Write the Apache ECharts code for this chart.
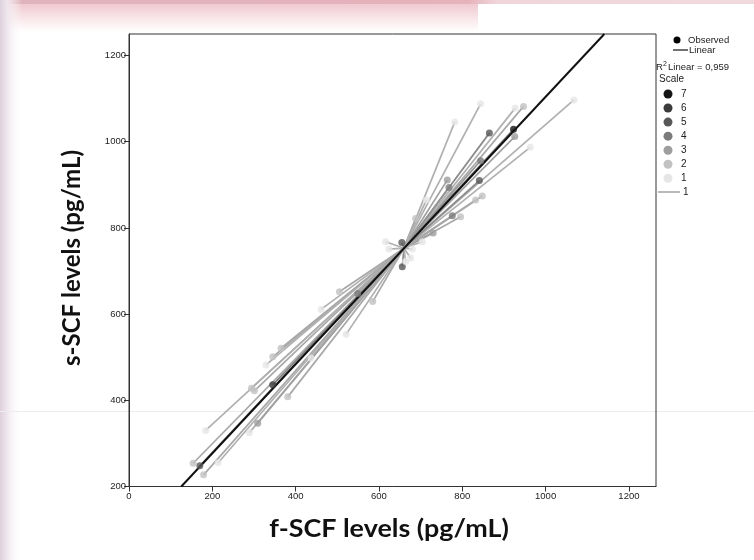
<!DOCTYPE html>
<html>
<head>
<meta charset="utf-8">
<script src="https://cdn.jsdelivr.net/npm/echarts@6/dist/echarts.min.js"></script>
<style>html,body{margin:0;padding:0;background:#fff;}#c{width:754px;height:560px;}</style>
</head>
<body>
<div id="c"></div>
<script>
// ---- data ----
const fScf = [844, 782, 947, 1068, 927, 923, 865, 963, 844, 841, 768, 848, 776, 796, 730, 764, 926, 832, 688, 714,
  655, 656, 616, 680, 676, 704, 624, 664, 549, 505, 461, 521, 585, 345, 329, 437, 365, 294, 184, 289, 309, 170, 214, 154, 179, 381, 345, 301];
const sScf = [1088, 1046, 1082, 1097, 1078, 1029, 1020, 987, 956, 910, 894, 874, 828, 826, 788, 911, 1012, 865, 822, 865,
  766, 710, 768, 751, 730, 768, 751, 722, 648, 652, 611, 553, 629, 501, 482, 498, 521, 428, 330, 325, 347, 248, 255, 254, 227, 408, 436, 422];
const scaleLvl = [1, 1, 2, 1, 1, 7, 5, 1, 4, 5, 4, 2, 4, 2, 3, 3, 3, 2, 2, 1,
  5, 5, 1, 1, 1, 1, 1, 1, 4, 2, 1, 1, 2, 2, 1, 1, 2, 2, 1, 1, 3, 5, 1, 2, 2, 2, 6, 2];
const centroid = [660, 753];
const fitIntercept = 70.2;
const fitSlope = 1.034;
const rSquaredText = '0,959';
const xTicks = [0, 200, 400, 600, 800, 1000, 1200];
const yTicks = [200, 400, 600, 800, 1000, 1200];
const xRange = [0, 1265];
const yRange = [200, 1250];
const scaleLegend = [7, 6, 5, 4, 3, 2, 1];
const spikeLegend = '1';
const xTitle = 'f-SCF levels (pg/mL)';
const yTitle = 's-SCF levels (pg/mL)';

// ---- styles ----
const markerColor = {7:'#151515',6:'#3c3c3c',5:'#575757',4:'#7b7b7b',3:'#9e9e9e',2:'#c2c2c2',1:'#e6e6e6'};
const spikeColor = {7:'#777777',6:'#808080',5:'#8a8a8a',4:'#959595',3:'#a0a0a0',2:'#a8a8a8',1:'#b0b0b0'};
const txt = '#222';
const fontLbl = 'Liberation Sans, Arial, sans-serif';
const titleFont = 'bold 24px Lato, "Open Sans", sans-serif';

const chart = echarts.init(document.getElementById('c'), null, {renderer: 'canvas'});

const spikes = fScf.map((x, i) => ({
  coords: [centroid, [x, sScf[i]]],
  lineStyle: {color: spikeColor[scaleLvl[i]]}
}));
const points = fScf.map((x, i) => ({
  value: [x, sScf[i]],
  itemStyle: {color: markerColor[scaleLvl[i]]}
}));
const fitLine = [
  [(yRange[0] - fitIntercept) / fitSlope, yRange[0]],
  [(yRange[1] - fitIntercept) / fitSlope, yRange[1]]
];

// legend graphics
const lg = [];
lg.push({type:'circle', shape:{cx:677, cy:40, r:3.5}, style:{fill:'#000'}});
lg.push({type:'text', x:688, y:40, style:{text:'Observed', font:'9.5px ' + fontLbl, fill:txt, verticalAlign:'middle'}});
lg.push({type:'line', shape:{x1:673, y1:50, x2:688, y2:50}, style:{stroke:'#111', lineWidth:1.2}});
lg.push({type:'text', x:689, y:50, style:{text:'Linear', font:'9.5px ' + fontLbl, fill:txt, verticalAlign:'middle'}});
lg.push({type:'text', x:656, y:67, style:{text:'R', font:'9.5px ' + fontLbl, fill:txt, verticalAlign:'middle'}});
lg.push({type:'text', x:663, y:64, style:{text:'2', font:'7px ' + fontLbl, fill:txt, verticalAlign:'middle'}});
lg.push({type:'text', x:668, y:67, style:{text:'Linear = ' + rSquaredText, font:'9.5px ' + fontLbl, fill:txt, verticalAlign:'middle'}});
lg.push({type:'text', x:659, y:79, style:{text:'Scale', font:'10px ' + fontLbl, fill:txt, verticalAlign:'middle'}});
scaleLegend.forEach((s, i) => {
  const cy = 94 + i * 14.05;
  lg.push({type:'circle', shape:{cx:668, cy:cy, r:4.5}, style:{fill:markerColor[s]}});
  lg.push({type:'text', x:681, y:cy, style:{text:String(s), font:'10px ' + fontLbl, fill:txt, verticalAlign:'middle'}});
});
lg.push({type:'line', shape:{x1:658, y1:192, x2:680, y2:192}, style:{stroke:'#8a8a8a', lineWidth:1.2}});
lg.push({type:'text', x:683, y:192, style:{text:spikeLegend, font:'10px ' + fontLbl, fill:txt, verticalAlign:'middle'}});

const bg = [
  {type:'rect', z:-10, shape:{x:0, y:0, width:754, height:4}, style:{fill:new echarts.graphic.LinearGradient(0,0,1,0,[{offset:0,color:'#dfb3bd'},{offset:0.62,color:'#e6b2bb'},{offset:0.66,color:'#f0d6db'},{offset:1,color:'#f0d9dd'}])}},
  {type:'rect', z:-10, shape:{x:0, y:4, width:478, height:28}, style:{fill:new echarts.graphic.LinearGradient(0,0,0,1,[{offset:0,color:'#f0c9d0'},{offset:1,color:'rgba(255,255,255,0.9)'}])}},
  {type:'rect', z:-10, shape:{x:0, y:0, width:22, height:560}, style:{fill:new echarts.graphic.LinearGradient(0,0,1,0,[{offset:0,color:'#ddd0db'},{offset:0.3,color:'#eee5ec'},{offset:1,color:'rgba(255,255,255,0)'}])}},
  {type:'line', z:-10, shape:{x1:0, y1:411.5, x2:754, y2:411.5}, style:{stroke:'#ececec', lineWidth:1}},
  {type:'text', x:389, y:529, scaleX:1.12, originX:0, originY:0, style:{text:xTitle, font:titleFont, fill:'#111', align:'center', verticalAlign:'middle'}},
  {type:'text', x:72, y:258, rotation:Math.PI/2, style:{text:yTitle, font:titleFont, fill:'#111', align:'center', verticalAlign:'middle'}}
];

chart.setOption({
  animation: false,
  backgroundColor: '#fff',
  grid: {left: 129, top: 34, right: 98, bottom: 73.5, show: true, borderColor: '#333', borderWidth: 1, backgroundColor: 'transparent'},
  xAxis: {
    type: 'value', min: xRange[0], max: xRange[1],
    axisLine: {show: true, onZero: false, lineStyle: {color: '#333', width: 1}},
    axisTick: {show: true, length: 5, lineStyle: {color: '#333'}, customValues: xTicks},
    axisLabel: {color: txt, fontSize: 9.5, fontFamily: fontLbl, margin: 5, customValues: xTicks, formatter: v => String(v)},
    splitLine: {show: false}
  },
  yAxis: {
    type: 'value', min: yRange[0], max: yRange[1],
    axisLine: {show: true, onZero: false, lineStyle: {color: '#333', width: 1}},
    axisTick: {show: true, length: 5, lineStyle: {color: '#333'}, customValues: yTicks},
    axisLabel: {color: txt, fontSize: 9.5, fontFamily: fontLbl, margin: 3, customValues: yTicks, formatter: v => String(v)},
    splitLine: {show: false}
  },
  series: [
    {type: 'lines', coordinateSystem: 'cartesian2d', z: 1, silent: true,
     lineStyle: {width: 1.7, opacity: 1}, data: spikes},
    {type: 'line', name: 'Linear', z: 2, data: fitLine, symbol: 'none', silent: true,
     lineStyle: {color: '#111', width: 2}},
    {type: 'scatter', name: 'Observed', z: 3, symbol: 'circle', symbolSize: 7, data: points, silent: true}
  ],
  graphic: bg.concat(lg)
});
</script>
</body>
</html>
